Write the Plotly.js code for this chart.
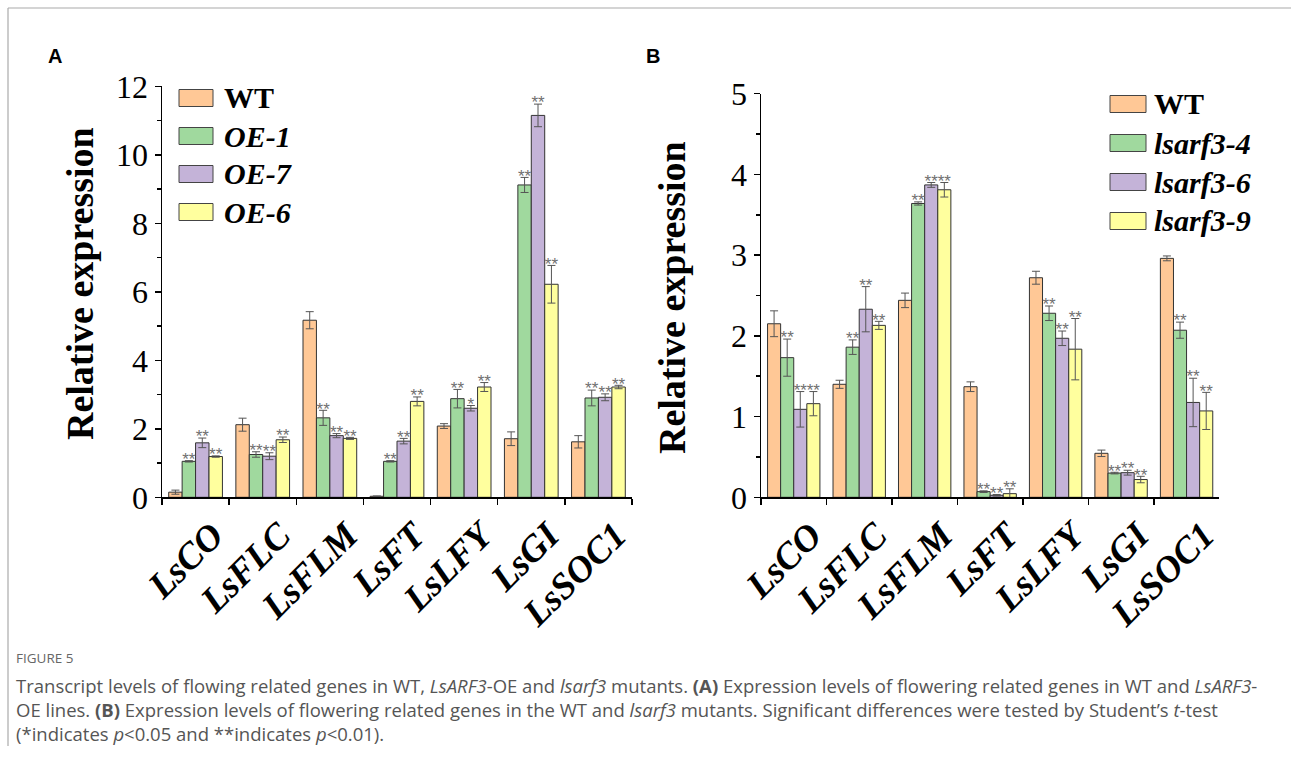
<!DOCTYPE html>
<html><head><meta charset="utf-8">
<script src="https://cdn.plot.ly/plotly-3.0.1.min.js"></script>
<style>html,body{margin:0;padding:0;background:#fff;} #chart{width:1291px;height:765px;}</style>
</head><body><div id="chart"></div>
<script>
// ---------- data ----------
const genes = ['LsCO','LsFLC','LsFLM','LsFT','LsLFY','LsGI','LsSOC1'];

// Panel A: WT and LsARF3-OE lines
const namesA = ['WT','OE-1','OE-7','OE-6'];
const a_WT      = [0.15, 2.12, 5.17, 0.03, 2.08, 1.71, 1.62];
const a_WT_err  = [0.06, 0.19, 0.25, 0.01, 0.07, 0.20, 0.18];
const a_OE1     = [1.05, 1.25, 2.32, 1.05, 2.88, 9.12, 2.90];
const a_OE1_err = [0.02, 0.08, 0.22, 0.02, 0.27, 0.22, 0.23];
const a_OE7     = [1.59, 1.20, 1.80, 1.64, 2.60, 11.15, 2.92];
const a_OE7_err = [0.14, 0.10, 0.06, 0.08, 0.08, 0.33, 0.10];
const a_OE6     = [1.19, 1.68, 1.72, 2.80, 3.22, 6.22, 3.22];
const a_OE6_err = [0.02, 0.08, 0.03, 0.13, 0.13, 0.55, 0.05];
const a_WT_sig  = ['', '', '', '', '', '', ''];
const a_OE1_sig = ['**','**','**','**','**','**','**'];
const a_OE7_sig = ['**','**','**','**','*','**','**'];
const a_OE6_sig = ['**','**','**','**','**','**','**'];

// Panel B: WT and lsarf3 mutants
const namesB = ['WT','lsarf3-4','lsarf3-6','lsarf3-9'];
const b_WT     = [2.15, 1.40, 2.44, 1.37, 2.72, 0.545, 2.96];
const b_WT_err = [0.16, 0.05, 0.09, 0.06, 0.08, 0.04, 0.03];
const b_m4     = [1.73, 1.86, 3.64, 0.07, 2.28, 0.30, 2.07];
const b_m4_err = [0.23, 0.09, 0.02, 0.01, 0.09, 0.01, 0.10];
const b_m6     = [1.09, 2.33, 3.87, 0.025, 1.97, 0.305, 1.175];
const b_m6_err = [0.22, 0.28, 0.03, 0.01, 0.09, 0.03, 0.30];
const b_m9     = [1.16, 2.13, 3.81, 0.045, 1.835, 0.22, 1.07];
const b_m9_err = [0.15, 0.05, 0.09, 0.06, 0.38, 0.04, 0.23];
const b_WT_sig = ['', '', '', '', '', '', ''];
const b_m4_sig = ['**','**','**','**','**','**','**'];
const b_m6_sig = ['**','**','**','**','**','**','**'];
const b_m9_sig = ['**','**','**','**','**','**','**'];

const colors = ['#FFC896','#A0D99E','#C4B3D8','#FFFF9E'];

// ---------- helpers ----------
const W = 1291, H = 765;
const px = x => x / W;
const py = y => 1 - y / H;

function panelTraces(names, vals, errs, sigs, xa, ya) {
  const out = [];
  names.forEach((n, i) => {
    out.push({
      type: 'bar', name: n, x: genes, y: vals[i], xaxis: xa, yaxis: ya,
      offsetgroup: 'g' + i,
      marker: {color: colors[i], line: {color: '#333', width: 1}},
      error_y: {type: 'data', array: errs[i], visible: true, color: '#555', thickness: 1, width: 4},
      showlegend: false, hoverinfo: 'skip'
    });
  });
  names.forEach((n, i) => {
    out.push({
      type: 'scatter', mode: 'text', x: genes,
      y: vals[i].map((v, k) => v + errs[i][k]),
      text: sigs[i], textposition: 'middle center',
      textfont: {family: 'Liberation Sans', size: 17, color: '#707070'},
      xaxis: xa, yaxis: ya, offsetgroup: 'g' + i, cliponaxis: false,
      showlegend: false, hoverinfo: 'skip'
    });
  });
  return out;
}

const data = [
  ...panelTraces(namesA, [a_WT,a_OE1,a_OE7,a_OE6], [a_WT_err,a_OE1_err,a_OE7_err,a_OE6_err],
                 [a_WT_sig,a_OE1_sig,a_OE7_sig,a_OE6_sig], 'x', 'y'),
  ...panelTraces(namesB, [b_WT,b_m4,b_m6,b_m9], [b_WT_err,b_m4_err,b_m6_err,b_m9_err],
                 [b_WT_sig,b_m4_sig,b_m6_sig,b_m9_sig], 'x2', 'y2')
];

const xTickFont = {family: 'Liberation Serif', size: 37, weight: 'bold', style: 'italic', color: '#000'};
const yTickFont = {family: 'Liberation Serif', size: 32, color: '#000'};

function xAxis(dom, anchor) {
  return {domain: dom, anchor: anchor, type: 'category', range: [-0.5, 6.5],
    tickson: 'boundaries', ticks: 'outside', ticklen: 6, tickwidth: 1.5, tickcolor: '#000',
    showline: true, linecolor: '#000', linewidth: 1.5, showgrid: false, zeroline: false,
    tickangle: -45, tickfont: xTickFont, ticklabelshift: 17, ticklabelstandoff: 0, fixedrange: true};
}
function yAxis(dom, anchor, max, dt, mdt) {
  return {domain: dom, anchor: anchor, range: [0, max], dtick: dt, tick0: 0,
    ticks: 'outside', ticklen: 6, tickwidth: 1.5, tickcolor: '#000',
    minor: {dtick: mdt, tick0: 0, ticks: 'outside', ticklen: 4, tickwidth: 1.5, tickcolor: '#000', showgrid: false},
    showline: true, linecolor: '#000', linewidth: 1.5, showgrid: false, zeroline: false,
    tickfont: yTickFont, fixedrange: true};
}

const shapes = [
  {type: 'line', xref: 'paper', yref: 'paper', x0: px(8), x1: px(1291), y0: py(8), y1: py(8), line: {color: '#aaa', width: 1.2}},
  {type: 'line', xref: 'paper', yref: 'paper', x0: px(8), x1: px(8), y0: py(8), y1: py(746), line: {color: '#aaa', width: 1.2}}
];
const annotations = [];

function legend(names, italicFrom, bx0, bx1, tx, ys) {
  names.forEach((n, i) => {
    shapes.push({type: 'rect', xref: 'paper', yref: 'paper',
      x0: px(bx0), x1: px(bx1), y0: py(ys[i] - 8.5), y1: py(ys[i] + 8.5),
      fillcolor: colors[i], line: {color: '#444', width: 1}});
    annotations.push({xref: 'paper', yref: 'paper', x: px(tx), y: py(ys[i]), xanchor: 'left', yanchor: 'middle',
      showarrow: false, text: i >= italicFrom ? '<b><i>' + n + '</i></b>' : '<b>' + n + '</b>',
      font: {family: 'Liberation Serif', size: 30, color: '#000'}});
  });
}
legend(namesA, 1, 179, 213, 222, [98, 136, 174, 212]);
legend(namesB, 1, 1110, 1146, 1152, [104, 143, 182, 221]);

function txt(t, x, y, font, extra) {
  annotations.push(Object.assign({xref: 'paper', yref: 'paper', x: px(x), y: py(y),
    xanchor: 'left', yanchor: 'middle', showarrow: false, text: t, font: font}, extra || {}));
}
const panelFont = {family: 'Liberation Sans', size: 20, color: '#000', weight: 'bold'};
txt('A', 46, 56, panelFont);
txt('B', 644, 56, panelFont);

const yTitleFont = {family: 'Liberation Serif', size: 38, color: '#000', weight: 'bold'};
txt('Relative expression', 80, 284, yTitleFont, {xanchor: 'center', textangle: -90});
txt('Relative expression', 672, 298, yTitleFont, {xanchor: 'center', textangle: -90});

const capFont = {family: 'Open Sans', size: 18.5, color: '#555'};
txt('FIGURE 5', 14, 658, {family: 'Open Sans', size: 13.5, color: '#666'});
txt('Transcript levels of flowing related genes in WT, <i>LsARF3</i>-OE and <i>lsarf3</i> mutants. <b>(A)</b> Expression levels of flowering related genes in WT and <i>LsARF3</i>-', 14, 685, capFont);
txt('OE lines. <b>(B)</b> Expression levels of flowering related genes in the WT and <i>lsarf3</i> mutants. Significant differences were tested by Student\u2019s <i>t</i>-test', 14, 709, capFont);
txt('(*indicates <i>p</i>&lt;0.05 and **indicates <i>p</i>&lt;0.01).', 14, 733, capFont);

const layout = {
  width: W, height: H, margin: {l: 0, r: 0, t: 0, b: 0},
  paper_bgcolor: '#fff', plot_bgcolor: 'rgba(0,0,0,0)',
  showlegend: false, barmode: 'group', bargap: 0.2, bargroupgap: 0,
  scattermode: 'group', scattergap: 0.2,
  xaxis: xAxis([px(162), px(632)], 'y'),
  yaxis: yAxis([py(497.3), py(86.3)], 'x', 12, 2, 1),
  xaxis2: xAxis([px(761), px(1219.3)], 'y2'),
  yaxis2: yAxis([py(497.3), py(93.7)], 'x2', 5, 1, 0.5),
  shapes: shapes, annotations: annotations
};

Plotly.newPlot('chart', data, layout, {staticPlot: true, displayModeBar: false});
</script>
</body></html>
